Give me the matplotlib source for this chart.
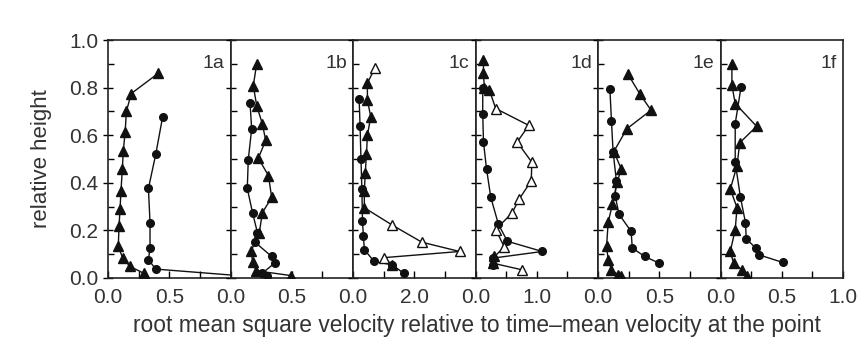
import numpy as np
import matplotlib
matplotlib.use("Agg")
import matplotlib.pyplot as plt
from matplotlib.ticker import FixedLocator

plt.rcParams['font.family'] = ['Liberation Sans', 'DejaVu Sans']

# panel data: triangles (tri) and circles (cir), x = rms velocity ratio, y = relative height
a_tri_x = [0.41, 0.19, 0.15, 0.14, 0.125, 0.117, 0.106, 0.098, 0.09, 0.084, 0.12, 0.18, 0.29]
a_tri_y = [0.86, 0.775, 0.70, 0.613, 0.535, 0.458, 0.366, 0.288, 0.217, 0.133, 0.083, 0.048, 0.02]
a_cir_x = [0.446, 0.39, 0.33, 0.343, 0.343, 0.33, 0.39, 1.3]
a_cir_y = [0.677, 0.52, 0.376, 0.232, 0.126, 0.076, 0.037, 0.0]

b_tri_x = [0.214, 0.186, 0.214, 0.26, 0.287, 0.227, 0.31, 0.336, 0.26, 0.235, 0.17, 0.18, 0.21, 0.49]
b_tri_y = [0.90, 0.808, 0.723, 0.648, 0.578, 0.503, 0.43, 0.338, 0.274, 0.189, 0.115, 0.065, 0.03, 0.01]
b_cir_x = [0.159, 0.173, 0.145, 0.137, 0.181, 0.22, 0.2, 0.336, 0.36, 0.26, 0.3]
b_cir_y = [0.737, 0.627, 0.497, 0.376, 0.271, 0.19, 0.15, 0.09, 0.062, 0.02, 0.008]

c_tri_x = [0.72, 0.47, 0.47, 0.58, 0.47, 0.44, 0.40, 0.37, 0.37, 1.28, 2.25, 3.48, 1.0, 1.28]
c_tri_y = [0.884, 0.818, 0.747, 0.677, 0.6, 0.52, 0.44, 0.366, 0.295, 0.222, 0.15, 0.111, 0.085, 0.055]
c_tri_open = [1, 0, 0, 0, 0, 0, 0, 0, 0, 1, 1, 1, 1, 0]
c_cir_x = [0.2, 0.23, 0.26, 0.29, 0.31, 0.34, 0.37, 0.69, 1.28, 1.65]
c_cir_y = [0.754, 0.64, 0.5, 0.373, 0.238, 0.175, 0.119, 0.069, 0.055, 0.02]

d_tri_x = [0.13, 0.13, 0.145, 0.226, 0.33, 0.87, 0.68, 0.92, 0.91, 0.71, 0.6, 0.33, 0.47, 0.31, 0.28, 0.76]
d_tri_y = [0.917, 0.86, 0.797, 0.79, 0.712, 0.641, 0.571, 0.486, 0.408, 0.33, 0.274, 0.203, 0.13, 0.09, 0.062, 0.034]
d_tri_open = [0, 0, 0, 0, 1, 1, 1, 1, 1, 1, 1, 1, 1, 0, 0, 1]
d_cir_x = [0.118, 0.118, 0.13, 0.18, 0.25, 0.375, 0.52, 1.09, 0.28, 0.28]
d_cir_y = [0.797, 0.69, 0.571, 0.458, 0.338, 0.225, 0.154, 0.111, 0.083, 0.055]

e_tri_x = [0.245, 0.344, 0.433, 0.236, 0.129, 0.19, 0.155, 0.118, 0.083, 0.07, 0.083, 0.11, 0.164, 0.19]
e_tri_y = [0.856, 0.771, 0.705, 0.627, 0.531, 0.458, 0.401, 0.309, 0.234, 0.133, 0.076, 0.034, 0.013, 0.006]
e_cir_x = [0.097, 0.11, 0.123, 0.15, 0.14, 0.172, 0.27, 0.28, 0.38, 0.5]
e_cir_y = [0.794, 0.658, 0.531, 0.408, 0.345, 0.267, 0.196, 0.126, 0.09, 0.062]

f_tri_x = [0.093, 0.093, 0.12, 0.295, 0.157, 0.135, 0.08, 0.135, 0.12, 0.08, 0.107, 0.176, 0.217]
f_tri_y = [0.898, 0.81, 0.733, 0.637, 0.568, 0.472, 0.373, 0.295, 0.203, 0.111, 0.062, 0.034, 0.008]
f_cir_x = [0.168, 0.12, 0.12, 0.163, 0.204, 0.21, 0.287, 0.314, 0.507]
f_cir_y = [0.804, 0.648, 0.486, 0.338, 0.232, 0.164, 0.126, 0.097, 0.065]

panels = [
    ("1a", a_tri_x, a_tri_y, None, a_cir_x, a_cir_y, 1.0),
    ("1b", b_tri_x, b_tri_y, None, b_cir_x, b_cir_y, 1.0),
    ("1c", c_tri_x, c_tri_y, c_tri_open, c_cir_x, c_cir_y, 4.0),
    ("1d", d_tri_x, d_tri_y, d_tri_open, d_cir_x, d_cir_y, 2.0),
    ("1e", e_tri_x, e_tri_y, None, e_cir_x, e_cir_y, 1.0),
    ("1f", f_tri_x, f_tri_y, None, f_cir_x, f_cir_y, 1.0),
]

txt = '#333333'
fig = plt.figure(figsize=(8.64, 3.54), dpi=100)
gs = fig.add_gridspec(1, 6, left=0.125, right=0.9757, bottom=0.215, top=0.887, wspace=0)

for i, (name, tx, ty, topen, cx, cy, xmax) in enumerate(panels):
    ax = fig.add_subplot(gs[0, i])
    ax.plot(cx, cy, '-', color='#111111', lw=1.0, marker='o', ms=5.5,
            mfc='#111111', mec='#111111', zorder=3)
    ax.plot(tx, ty, '-', color='#111111', lw=1.0, zorder=3)
    tx = np.array(tx)
    ty = np.array(ty)
    if topen is None:
        topen = np.zeros(len(tx), dtype=bool)
    topen = np.array(topen, dtype=bool)
    ax.plot(tx[~topen], ty[~topen], '^', ms=7.5, mfc='#111111', mec='#111111', zorder=4)
    ax.plot(tx[topen], ty[topen], '^', ms=7.5, mfc='white', mec='#111111', mew=1.0, zorder=4)

    ax.set_xlim(0, xmax)
    ax.set_ylim(0, 1.0)
    ax.set_xticks([0, xmax / 2, xmax])
    labels = ['0.0', '%.1f' % (xmax / 2), '1.0' if i == 5 else '']
    ax.set_xticklabels(labels)
    ax.xaxis.set_minor_locator(FixedLocator([xmax / 4, 3 * xmax / 4]))
    ax.set_yticks([0, 0.2, 0.4, 0.6, 0.8, 1.0])
    ax.yaxis.set_minor_locator(FixedLocator([0.1, 0.3, 0.5, 0.7, 0.9]))
    ax.tick_params(axis='x', which='both', direction='in', length=5, width=1,
                   top=False, labelsize=15, labelcolor=txt, pad=7)
    ax.tick_params(axis='y', which='major', direction='inout', length=7, width=1,
                   right=False, labelsize=15, labelcolor=txt)
    ax.tick_params(axis='y', which='minor', direction='in', length=4, width=1, right=False)
    if i > 0:
        ax.tick_params(axis='y', which='both', labelleft=False)
    for s in ax.spines.values():
        s.set_linewidth(1.2)
        s.set_color('#222222')
    ax.text(0.95, 0.9, name, transform=ax.transAxes, ha='right', va='center',
            fontsize=14, color=txt)
    if i == 0:
        ax.set_ylabel('relative height', fontsize=16, color=txt, labelpad=12)

fig.text(0.552, 0.08, 'root mean square velocity relative to time\u2013mean velocity at the point',
         ha='center', va='center', fontsize=16.4, color=txt)

fig.savefig('out.png', dpi=100)
